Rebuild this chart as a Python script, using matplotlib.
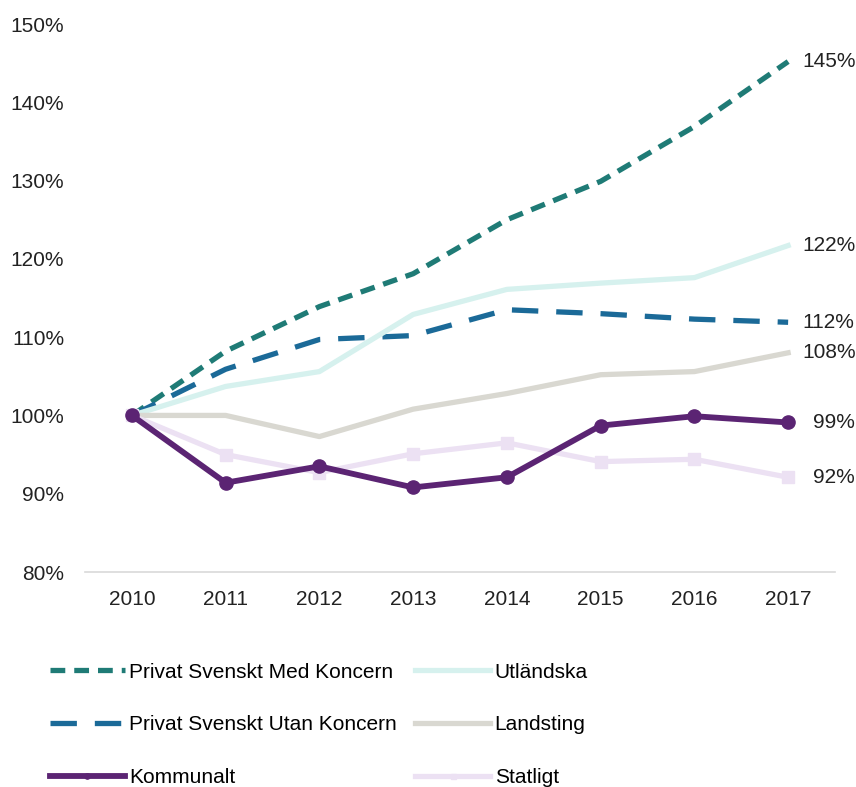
import matplotlib.pyplot as plt
import numpy as np

plt.rcParams['font.family'] = ['Liberation Sans', 'DejaVu Sans']

years = ['2010', '2011', '2012', '2013', '2014', '2015', '2016', '2017']

med_koncern = [100, 108.2, 113.9, 118.1, 125.0, 129.9, 136.9, 145.2]
utan_koncern = [100, 105.9, 109.7, 110.2, 113.5, 113.0, 112.3, 111.9]
utlandska = [100, 103.7, 105.6, 112.9, 116.1, 116.9, 117.6, 121.7]
landsting = [100, 100.0, 97.3, 100.8, 102.8, 105.2, 105.6, 108.0]
kommunalt = [100, 91.4, 93.5, 90.8, 92.1, 98.7, 99.9, 99.1]
statligt = [100, 95.0, 92.7, 95.1, 96.5, 94.1, 94.4, 92.1]

end_labels = ['145%', '112%', '122%', '108%', '99%', '92%']

fig = plt.figure(figsize=(8.56, 7.87), dpi=100)
ax = fig.add_axes([85/856, 215/787, 750/856, 548/787])

x = np.arange(len(years))

l1, = ax.plot(x, med_koncern, color='#1f7b76', lw=3.8, dashes=(2.8, 1.7),
              label='Privat Svenskt Med Koncern')
l2, = ax.plot(x, utan_koncern, color='#1b6a98', lw=3.8, dashes=(5, 3.4),
              label='Privat Svenskt Utan Koncern')
l4, = ax.plot(x, utlandska, color='#d6f1ee', lw=3.8, label='Utländska')
l5, = ax.plot(x, landsting, color='#d9d8d1', lw=3.8, label='Landsting')
l6, = ax.plot(x, statligt, color='#ece1f3', lw=3.8, marker='s', ms=9,
              label='Statligt')
l3, = ax.plot(x, kommunalt, color='#5b2473', lw=4.2, marker='o', ms=9.5,
              label='Kommunalt')

series = [med_koncern, utan_koncern, utlandska, landsting, kommunalt, statligt]
for s, lab in zip(series, end_labels):
    pad = 0.27 if lab in ('99%', '92%') else 0.15
    ax.text(x[-1] + pad, s[-1], lab, va='center', ha='left', fontsize=15,
            color='#222222', clip_on=False)

ax.set_xlim(-0.5, 7.5)
ax.set_ylim(80, 150)
ax.set_xticks(x)
ax.set_xticklabels(years)
ax.set_yticks(np.arange(80, 151, 10))
ax.set_yticklabels([f'{v}%' for v in range(80, 151, 10)])

for side in ['top', 'right', 'left']:
    ax.spines[side].set_visible(False)
ax.spines['bottom'].set_color('#d9d9d9')
ax.spines['bottom'].set_linewidth(1.2)
ax.tick_params(axis='both', length=0, labelsize=15, colors='#222222')
ax.tick_params(axis='y', pad=15)
ax.tick_params(axis='x', pad=13)

fig.legend(handles=[l1, l2, l3, l4, l5, l6], ncol=2, frameon=False,
           loc='upper left', bbox_to_anchor=(31/856, 1 - 644/787),
           fontsize=15, handlelength=3.6, handletextpad=0.2,
           columnspacing=0.9, labelspacing=1.62, markerscale=0.4)

fig.savefig('out.png', dpi=100)
